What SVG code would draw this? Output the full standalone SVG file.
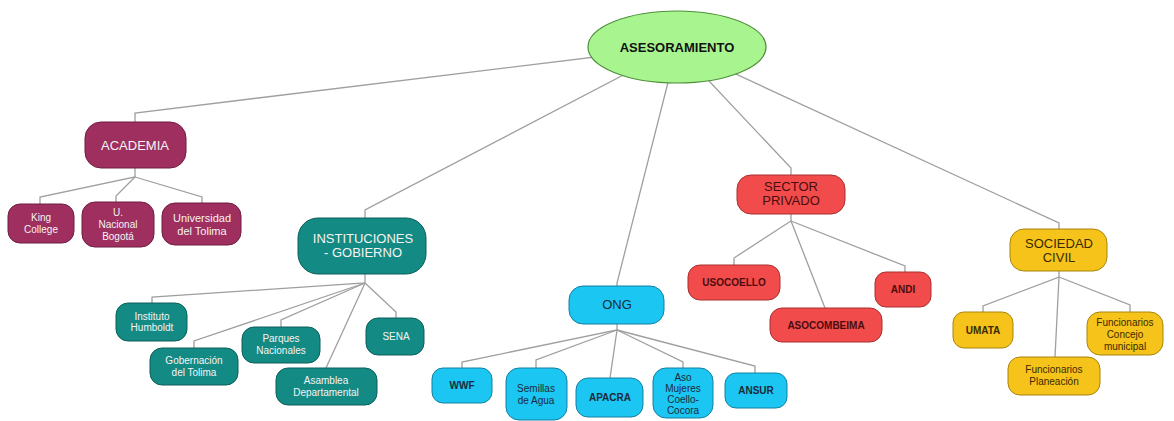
<svg xmlns="http://www.w3.org/2000/svg" width="1174" height="421" viewBox="0 0 1174 421">
<style>
text{font-family:"Liberation Sans",Arial,sans-serif;text-anchor:middle}
.c{fill:none;stroke:#9f9f9f;stroke-width:1.3}
.aca{fill:#9E2F5F;stroke:#6e1f42;stroke-width:1}
.ins{fill:#138A83;stroke:#0c5f5a;stroke-width:1}
.ong{fill:#1BC6F2;stroke:#1580a0;stroke-width:1}
.sec{fill:#F24B4B;stroke:#a83030;stroke-width:1}
.soc{fill:#F5C31A;stroke:#a8850e;stroke-width:1}
.tw{fill:#f4f4f4}
.tb{fill:#1b2a3a}
.tr{fill:#4a0d0d}
.tg{fill:#3a2a00}
.h{font-size:13px}
.s{font-size:10px}
.m{font-size:11px}
.b{font-weight:bold}
</style>
<rect width="1174" height="421" fill="#ffffff"/>
<g id="connectors">
<polyline class="c" points="677,47 135,113 135,122"/>
<polyline class="c" points="677,47 365,210 365,218"/>
<polyline class="c" points="677,47 617,283 617,286"/>
<polyline class="c" points="677,47 791,168 791,175"/>
<polyline class="c" points="677,47 1059,223 1059,229"/>
<polyline class="c" points="135,168 135,177 40,197 40,204"/>
<polyline class="c" points="135,177 116,196 116,202"/>
<polyline class="c" points="135,177 202,197 202,203"/>
<polyline class="c" points="365,274 365,283 152,297 152,303"/>
<polyline class="c" points="365,283 194,341 194,348"/>
<polyline class="c" points="365,283 281,320 281,327"/>
<polyline class="c" points="365,283 326,368"/>
<polyline class="c" points="365,283 396,312 396,318"/>
<polyline class="c" points="617,323 617,330 462,362 462,368"/>
<polyline class="c" points="617,330 536,360 536,368"/>
<polyline class="c" points="617,330 610,378"/>
<polyline class="c" points="617,330 683,362 683,368"/>
<polyline class="c" points="617,330 755,366 755,373"/>
<polyline class="c" points="791,214 791,221 734,258 734,265"/>
<polyline class="c" points="791,221 825,308"/>
<polyline class="c" points="791,221 905,266 905,272"/>
<polyline class="c" points="1059,270 1059,277 983,306 983,312"/>
<polyline class="c" points="1059,277 1055,357"/>
<polyline class="c" points="1059,277 1130,305 1130,312"/>
</g>
<g id="asesoramiento">
<ellipse cx="677" cy="47" rx="89" ry="36" fill="#A8F590" stroke="#4e8f3a" stroke-width="1.2"/>
<text x="677" y="52" class="h b" fill="#111">ASESORAMIENTO</text>
</g>
<g id="academia">
<rect class="aca" x="85" y="122" width="101" height="46" rx="16"/>
<text x="135" y="150" class="h tw">ACADEMIA</text>
</g>
<g id="king-college">
<rect class="aca" x="8" y="204" width="66" height="39" rx="12"/>
<text x="41" y="221" class="s tw">King</text>
<text x="41" y="233" class="s tw">College</text>
</g>
<g id="u-nacional">
<rect class="aca" x="82" y="202" width="72" height="45" rx="13"/>
<text x="118" y="216" class="s tw">U.</text>
<text x="118" y="228" class="s tw">Nacional</text>
<text x="118" y="240" class="s tw">Bogotá</text>
</g>
<g id="universidad-tolima">
<rect class="aca" x="162" y="203" width="79" height="42" rx="13"/>
<text x="202" y="222" class="m tw">Universidad</text>
<text x="202" y="235" class="m tw">del Tolima</text>
</g>
<g id="instituciones">
<rect class="ins" x="298" y="218" width="128" height="56" rx="20"/>
<text x="363" y="243" class="h tw">INSTITUCIONES</text>
<text x="363" y="257" class="h tw">- GOBIERNO</text>
</g>
<g id="humboldt">
<rect class="ins" x="116" y="303" width="71" height="38" rx="12"/>
<text x="152" y="320" class="s tw">Instituto</text>
<text x="152" y="331" class="s tw">Humboldt</text>
</g>
<g id="gobernacion">
<rect class="ins" x="150" y="348" width="88" height="37" rx="12"/>
<text x="194" y="364" class="s tw">Gobernación</text>
<text x="194" y="376" class="s tw">del Tolima</text>
</g>
<g id="parques">
<rect class="ins" x="242" y="327" width="78" height="36" rx="12"/>
<text x="281" y="342" class="s tw">Parques</text>
<text x="281" y="354" class="s tw">Nacionales</text>
</g>
<g id="asamblea">
<rect class="ins" x="276" y="368" width="101" height="37" rx="12"/>
<text x="326" y="384" class="s tw">Asamblea</text>
<text x="326" y="396" class="s tw">Departamental</text>
</g>
<g id="sena">
<rect class="ins" x="366" y="318" width="58" height="37" rx="12"/>
<text x="396" y="340" class="s tw">SENA</text>
</g>
<g id="ong">
<rect class="ong" x="569" y="286" width="95" height="38" rx="14"/>
<text x="617" y="309" class="h tb">ONG</text>
</g>
<g id="wwf">
<rect class="ong" x="432" y="368" width="60" height="35" rx="11"/>
<text x="462" y="389" class="s b tb">WWF</text>
</g>
<g id="semillas">
<rect class="ong" x="506" y="368" width="61" height="52" rx="13"/>
<text x="536" y="392" class="s tb">Semillas</text>
<text x="536" y="404" class="s tb">de Agua</text>
</g>
<g id="apacra">
<rect class="ong" x="576" y="378" width="67" height="39" rx="12"/>
<text x="610" y="401" class="s b tb">APACRA</text>
</g>
<g id="aso-mujeres">
<rect class="ong" x="653" y="368" width="60" height="50" rx="13"/>
<text x="683" y="381" class="s tb">Aso</text>
<text x="683" y="392" class="s tb">Mujeres</text>
<text x="683" y="403" class="s tb">Coello-</text>
<text x="683" y="414" class="s tb">Cocora</text>
</g>
<g id="ansur">
<rect class="ong" x="725" y="373" width="62" height="35" rx="11"/>
<text x="756" y="394" class="s b tb">ANSUR</text>
</g>
<g id="sector-privado">
<rect class="sec" x="737" y="175" width="108" height="39" rx="14"/>
<text x="791" y="191" class="h tr">SECTOR</text>
<text x="791" y="205" class="h tr">PRIVADO</text>
</g>
<g id="usocoello">
<rect class="sec" x="688" y="265" width="92" height="35" rx="12"/>
<text x="734" y="286" class="s b tr">USOCOELLO</text>
</g>
<g id="asocombeima">
<rect class="sec" x="770" y="308" width="112" height="34" rx="12"/>
<text x="826" y="329" class="s b tr">ASOCOMBEIMA</text>
</g>
<g id="andi">
<rect class="sec" x="875" y="272" width="56" height="35" rx="11"/>
<text x="903" y="293" class="s b tr">ANDI</text>
</g>
<g id="sociedad-civil">
<rect class="soc" x="1010" y="229" width="97" height="42" rx="14"/>
<text x="1059" y="248" class="h tg">SOCIEDAD</text>
<text x="1059" y="262" class="h tg">CIVIL</text>
</g>
<g id="umata">
<rect class="soc" x="953" y="312" width="60" height="36" rx="11"/>
<text x="983" y="334" class="s b tg">UMATA</text>
</g>
<g id="planeacion">
<rect class="soc" x="1008" y="357" width="92" height="38" rx="12"/>
<text x="1054" y="373" class="s tg">Funcionarios</text>
<text x="1054" y="385" class="s tg">Planeación</text>
</g>
<g id="concejo">
<rect class="soc" x="1087" y="312" width="76" height="43" rx="13"/>
<text x="1125" y="326" class="s tg">Funcionarios</text>
<text x="1125" y="338" class="s tg">Concejo</text>
<text x="1125" y="350" class="s tg">municipal</text>
</g>
</svg>
